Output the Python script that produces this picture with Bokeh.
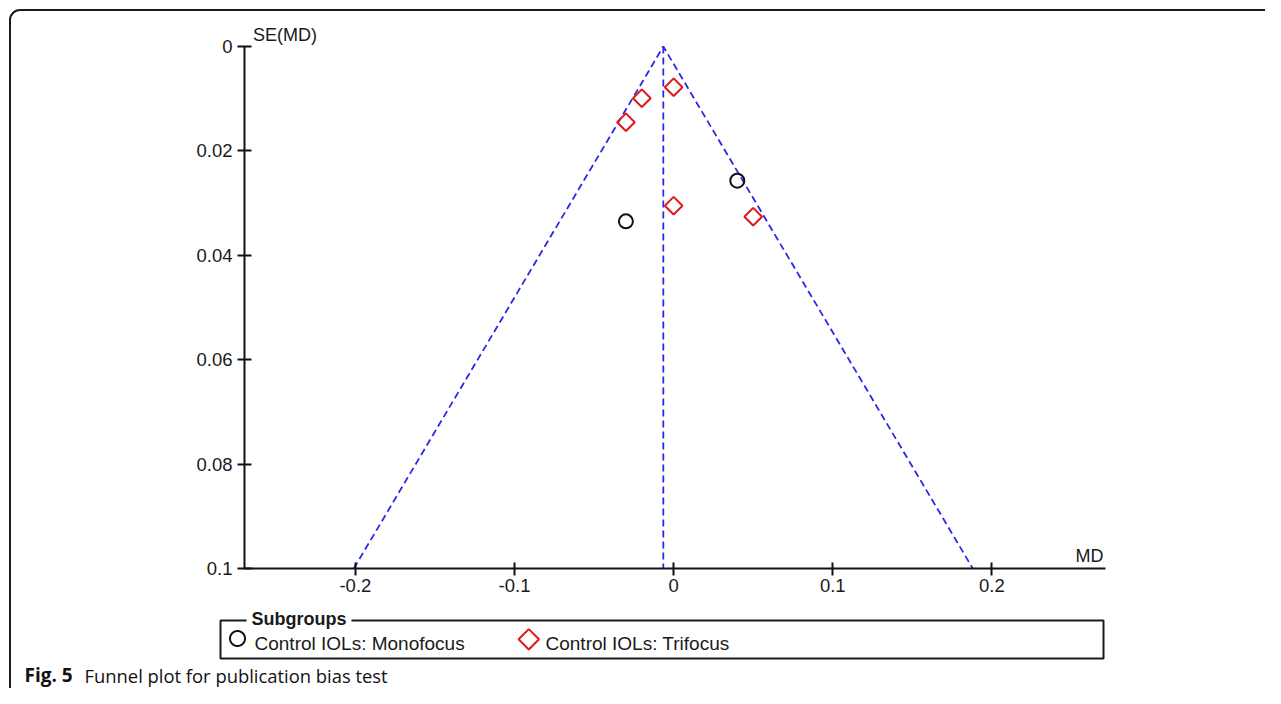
import numpy as np
from bokeh.plotting import figure
from bokeh.models import (Range1d, FixedTicker, Label, BoxAnnotation, PolyAnnotation)
from bokeh.embed import file_html
from bokeh.resources import INLINE

# ---- data ----
mono_md = [0.04, -0.03]
mono_se = [0.0257, 0.0335]
tri_md = [0.0, -0.02, -0.03, 0.0, 0.05]
tri_se = [0.0078, 0.0099, 0.0145, 0.0305, 0.0326]
pooled_md = -0.0065
funnel_x = [-0.201, -0.0065, 0.188]
funnel_y = [0.1, 0.0, 0.1]
x_ticks = [-0.2, -0.1, 0.0, 0.1, 0.2]
x_tick_labels = ["-0.2", "-0.1", "0", "0.1", "0.2"]
y_ticks = [0.0, 0.02, 0.04, 0.06, 0.08, 0.1]
y_tick_labels = ["0", "0.02", "0.04", "0.06", "0.08", "0.1"]
x_bounds = (-0.2697, 0.2714)
y_bounds = (0.0, 0.1)
legend_labels = ["Control IOLs: Monofocus", "Control IOLs: Trifocus"]
legend_title = "Subgroups"
caption_bold = "Fig. 5"
caption_text = "Funnel plot for publication bias test"

# ---- layout (canvas pixels) ----
W, H = 1265, 688
AX_L, AX_R, AX_T, AX_B = 244, 1105, 46, 568   # where the axes sit on the canvas
kx = (AX_R - AX_L) / (x_bounds[1] - x_bounds[0])
ky = (AX_B - AX_T) / (y_bounds[1] - y_bounds[0])
x0 = x_bounds[0] - AX_L / kx
x1 = x_bounds[1] + (W - AX_R) / kx
y_top = y_bounds[0] - AX_T / ky
y_bot = y_bounds[1] + (H - AX_B) / ky
BASE_FIX = 7  # labels render this much lower than the requested baseline


def sy(cy):
    """canvas y (from top) -> screen units (from frame bottom)"""
    return H - cy


def ty(cy):
    """desired text baseline (canvas y) -> label y in screen units"""
    return H - (cy - BASE_FIX)


p = figure(width=W, height=H, output_backend="svg", toolbar_location=None,
           x_range=Range1d(x0, x1), y_range=Range1d(y_bot, y_top),
           min_border=0, min_border_left=0, min_border_right=0,
           min_border_top=0, min_border_bottom=0)
p.outline_line_color = None
p.xgrid.visible = False
p.ygrid.visible = False
p.background_fill_color = "white"
p.border_fill_color = "white"

TXT = "#1a1a1a"
FONT = "Liberation Sans"
for ax in (p.xaxis[0], p.yaxis[0]):
    ax.axis_line_width = 2
    ax.axis_line_color = "#111111"
    ax.major_tick_line_width = 2
    ax.major_tick_line_color = "#111111"
    ax.minor_tick_line_color = None
    ax.major_label_text_font = FONT
    ax.major_label_text_font_size = "18.5px"
    ax.major_label_text_color = TXT

p.xaxis[0].fixed_location = y_bounds[1]
p.xaxis[0].bounds = x_bounds
p.xaxis[0].ticker = FixedTicker(ticks=x_ticks)
p.xaxis[0].major_label_overrides = dict(zip(x_ticks, x_tick_labels))
p.xaxis[0].major_tick_in = 6
p.xaxis[0].major_tick_out = 7
p.xaxis[0].major_label_standoff = 3

p.yaxis[0].fixed_location = x_bounds[0]
p.yaxis[0].bounds = y_bounds
p.yaxis[0].ticker = FixedTicker(ticks=y_ticks)
p.yaxis[0].major_label_overrides = dict(zip(y_ticks, y_tick_labels))
p.yaxis[0].major_tick_in = 7
p.yaxis[0].major_tick_out = 7
p.yaxis[0].major_label_standoff = 5

BLUE = "#2a2ae6"
RED = "#e01818"
p.line(funnel_x, funnel_y, line_color=BLUE, line_width=1.8, line_dash="7 4")
p.line([pooled_md, pooled_md], [0.0, 0.1], line_color=BLUE, line_width=1.8, line_dash="7 4")

p.scatter(mono_md, mono_se, marker="circle", size=14, fill_color=None,
          line_color="#111111", line_width=2)
p.scatter(tri_md, tri_se, marker="square", size=12.5, angle=np.pi / 4, fill_color=None,
          line_color=RED, line_width=2)

# axis titles
p.add_layout(Label(x=252.5, y=ty(41), x_units="screen", y_units="screen", text="SE(MD)",
                   text_font=FONT, text_font_size="18px", text_color=TXT,
                   text_baseline="alphabetic", text_align="left"))
p.add_layout(Label(x=1103, y=ty(562), x_units="screen", y_units="screen", text="MD",
                   text_font=FONT, text_font_size="18px", text_color=TXT,
                   text_baseline="alphabetic", text_align="right"))

# outer rounded frame of the figure panel
p.add_layout(BoxAnnotation(left=9.5, right=W + 50, top=sy(9.5), bottom=-50,
                           left_units="screen", right_units="screen",
                           top_units="screen", bottom_units="screen",
                           fill_color=None, fill_alpha=0, line_color="#1a1a1a",
                           line_alpha=1, line_width=2, border_radius=10))

# legend box
p.add_layout(BoxAnnotation(left=220, right=1103, top=sy(620), bottom=sy(658),
                           left_units="screen", right_units="screen",
                           top_units="screen", bottom_units="screen",
                           fill_color=None, fill_alpha=0, line_color="#1a1a1a",
                           line_alpha=1, line_width=2))
p.add_layout(Label(x=246, y=ty(625), x_units="screen", y_units="screen",
                   text="\u00a0" + legend_title + "\u00a0",
                   text_font=FONT, text_font_size="18px", text_font_style="bold",
                   text_color=TXT, text_baseline="alphabetic",
                   background_fill_color="white", background_fill_alpha=1))

# legend markers
cx, cy, r = 237, sy(638), 7.5
t = np.linspace(0, 2 * np.pi, 61)
p.add_layout(PolyAnnotation(xs=list(cx + r * np.cos(t)), ys=list(cy + r * np.sin(t)),
                            xs_units="screen", ys_units="screen",
                            fill_color=None, fill_alpha=0, line_color="#111111",
                            line_alpha=1, line_width=2))
dx, dy, h = 528.3, sy(638.8), 10.2
p.add_layout(PolyAnnotation(xs=[dx, dx + h, dx, dx - h], ys=[dy + h, dy, dy - h, dy],
                            xs_units="screen", ys_units="screen",
                            fill_color=None, fill_alpha=0, line_color=RED,
                            line_alpha=1, line_width=2))
p.add_layout(Label(x=254, y=ty(650), x_units="screen", y_units="screen", text=legend_labels[0],
                   text_font=FONT, text_font_size="19px", text_color=TXT,
                   text_baseline="alphabetic"))
p.add_layout(Label(x=545, y=ty(650), x_units="screen", y_units="screen", text=legend_labels[1],
                   text_font=FONT, text_font_size="19px", text_color=TXT,
                   text_baseline="alphabetic"))

# caption
p.add_layout(Label(x=24, y=ty(681.5), x_units="screen", y_units="screen", text=caption_bold,
                   text_font="Open Sans", text_font_size="19px", text_font_style="bold",
                   text_color="#111111", text_baseline="alphabetic"))
p.add_layout(Label(x=84, y=ty(681.5), x_units="screen", y_units="screen", text=caption_text,
                   text_font="Open Sans", text_font_size="18.4px",
                   text_color="#111111", text_baseline="alphabetic"))

open("out.html", "w").write(file_html(p, INLINE))
